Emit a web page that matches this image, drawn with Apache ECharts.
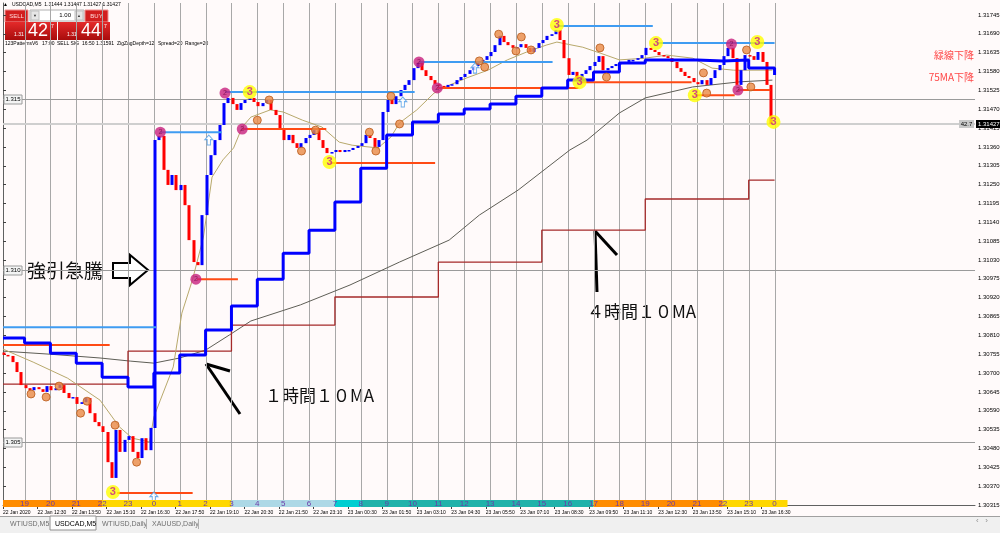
<!DOCTYPE html>
<html><head><meta charset="utf-8"><title>USDCAD M5</title>
<script src="https://cdn.jsdelivr.net/npm/echarts@6.0.0/dist/echarts.min.js"></script>
<style>html,body{margin:0;padding:0;background:#fffafa;overflow:hidden}#chart{width:1000px;height:533px}</style>
</head><body><div id="chart"></div>
<script>
// ---------------- DATA ----------------
// x unit = index of M5 bar (0 = 22 Jan 11:10)
const timeLabels = ["22 Jan 2020","22 Jan 12:30","22 Jan 13:50","22 Jan 15:10","22 Jan 16:30","22 Jan 17:50","22 Jan 19:10","22 Jan 20:30","22 Jan 21:50","22 Jan 23:10","23 Jan 00:30","23 Jan 01:50","23 Jan 03:10","23 Jan 04:30","23 Jan 05:50","23 Jan 07:10","23 Jan 08:30","23 Jan 09:50","23 Jan 11:10","23 Jan 12:30","23 Jan 13:50","23 Jan 15:10","23 Jan 16:30"];
const yTicks = [1.30315,1.30370,1.30425,1.30480,1.30535,1.30590,1.30645,1.30700,1.30755,1.30810,1.30865,1.30920,1.30975,1.31030,1.31085,1.31140,1.31195,1.31250,1.31305,1.31360,1.31415,1.31470,1.31525,1.31580,1.31635,1.31690,1.31745];
const hourNumbers = [19,20,21,22,23,0,1,2,3,4,5,6,7,8,9,10,11,12,13,14,15,16,17,18,19,20,21,22,23,0];

// 10-minute candles (open = previous close)
const firstOpen = 1.30760;
const candleCloses = [
1.30753,1.30750,1.30732,1.30703,1.30665,1.30656,1.30650,1.30659,1.30653,1.30645,
1.30662,1.30650,1.30656,1.30665,1.30642,1.30627,1.30630,1.30610,1.30615,1.30627,
1.30583,1.30557,1.30545,1.30528,1.30440,1.30394,1.30534,1.30470,1.30505,1.30516,
1.30470,1.30452,1.30510,1.30475,1.30540,1.31380,1.31392,1.31293,1.31249,1.31278,
1.31234,1.31249,1.31190,1.31088,1.31024,1.31015,1.31161,1.31278,1.31336,1.31380,
1.31424,1.31488,1.31503,1.31485,1.31468,1.31488,1.31497,1.31503,1.31491,1.31479,
1.31488,1.31497,1.31468,1.31453,1.31415,1.31380,1.31395,1.31371,1.31357,1.31371,
1.31386,1.31395,1.31409,1.31380,1.31357,1.31342,1.31345,1.31351,1.31345,1.31351,
1.31351,1.31357,1.31363,1.31371,1.31395,1.31386,1.31360,1.31380,1.31462,1.31497,
1.31485,1.31508,1.31526,1.31541,1.31555,1.31590,1.31605,1.31584,1.31567,1.31555,
1.31543,1.31538,1.31535,1.31541,1.31543,1.31555,1.31564,1.31573,1.31584,1.31596,
1.31608,1.31614,1.31625,1.31637,1.31657,1.31684,1.31666,1.31657,1.31649,1.31651,
1.31660,1.31649,1.31637,1.31649,1.31663,1.31672,1.31684,1.31689,1.31701,1.31672,
1.31619,1.31570,1.31579,1.31555,1.31573,1.31584,1.31596,1.31608,1.31625,1.31584,
1.31590,1.31596,1.31602,1.31605,1.31608,1.31614,1.31614,1.31619,1.31628,1.31649,
1.31643,1.31637,1.31628,1.31625,1.31619,1.31608,1.31590,1.31579,1.31567,1.31561,
1.31549,1.31543,1.31555,1.31541,1.31561,1.31584,1.31599,1.31625,1.31649,1.31619,
1.31541,1.31584,1.31628,1.31625,1.31614,1.31637,1.31608,1.31541,1.31427];

// 1-hour 10MA (step values, start of each hour block)
const ma1h = [[0,1.30802],[10,1.30788],[22,1.30758],[34,1.30729],[46,1.30688],[58,1.30659],[70,1.30700],[82,1.30753],[94,1.30826],[106,1.30896],[118,1.30974],[130,1.31050],[142,1.31117],[154,1.31199],[166,1.31298],[178,1.31395],[190,1.31433],[202,1.31456],[214,1.31471],[226,1.31485],[238,1.31508],[250,1.31532],[262,1.31555],[274,1.31579],[286,1.31605],[298,1.31614],[310,1.31614],[322,1.31611],[334,1.31614],[346,1.31590],[358,1.31570]];
// 4-hour 10MA
const ma4h = [[0,1.30668],[58,1.30764],[106,1.30840],[154,1.30922],[202,1.31024],[250,1.31117],[298,1.31208],[346,1.31263],[358,1.31263]];
// 75MA (dark grey)
const ma75 = [[0,1.30764],[22,1.30755],[45,1.30744],[59,1.30735],[70,1.30729],[82,1.30744],[94,1.30767],[105,1.30811],[115,1.30852],[138,1.30899],[161,1.30957],[184,1.31024],[207,1.31088],[221,1.31161],[239,1.31234],[263,1.31351],[271,1.31380],[286,1.31459],[298,1.31503],[320,1.31535],[342,1.31550],[357,1.31555]];
// fast MA (khaki)
const maFast = [[0,1.30770],[14,1.30732],[30,1.30685],[45,1.30621],[54,1.30543],[60,1.30510],[68,1.30499],[70,1.30572],[73,1.30621],[79,1.30718],[83,1.30875],[88,1.30974],[93,1.31097],[97,1.31272],[102,1.31322],[107,1.31357],[111,1.31418],[115,1.31447],[124,1.31468],[130,1.31462],[139,1.31438],[148,1.31418],[156,1.31374],[162,1.31365],[174,1.31357],[180,1.31389],[184,1.31430],[192,1.31468],[200,1.31517],[207,1.31540],[215,1.31561],[225,1.31584],[234,1.31614],[243,1.31637],[252,1.31657],[257,1.31666],[269,1.31651],[277,1.31634],[286,1.31614],[298,1.31619],[308,1.31628],[320,1.31619],[329,1.31590],[339,1.31584],[357,1.31584]];

// pattern markers [barIndex, price]
const zz3Points = [[51,1.30353],[114.5,1.31520],[151.5,1.31316],[257,1.31716],[267.5,1.31549],[303,1.31663],[321,1.31511],[350,1.31666],[357.5,1.31433]];
const zz2Points = [[73,1.31403],[89.5,1.30974],[103,1.31517],[111,1.31412],[193,1.31608],[201.5,1.31532],[338,1.31660],[341,1.31526]];
const zz0Points = [[13,1.30639],[20,1.30630],[26,1.30662],[36,1.30583],[39,1.30618],[52,1.30548],[62,1.30440],[118,1.31438],[123.5,1.31497],[138.5,1.31348],[145,1.31409],[170,1.31403],[173,1.31348],[180,1.31508],[184,1.31427],[221,1.31611],[223.5,1.31593],[230,1.31689],[238,1.31640],[240.5,1.31681],[245,1.31643],[277,1.31649],[280,1.31564],[325,1.31576],[326.5,1.31517],[345,1.31643],[347,1.31535]];
const buySignals = [[70,1.30338],[95.5,1.31380],[185.5,1.31491],[219,1.31590]];

// horizontal level segments [startBar, endBar, price]
const resistanceLevels = [[0,71,1.30834],[73,101.5,1.31403],[103,191,1.31520],[193,255,1.31608],[257,301.5,1.31713],[303,358,1.31663]];
const supportLevels = [[0,49.5,1.30782],[53,88,1.30350],[90,109,1.30974],[111,150,1.31412],[151.5,200.5,1.31313],[201.5,267,1.31532],[267.5,319.5,1.31549],[321,339.5,1.31511],[341,356,1.31526]];
const roundLevels = [1.315, 1.310, 1.305];
const lastPrice = 1.31427;
const sessionBands = [[0,46,'london'],[46,106,'ny'],[106,154,'close'],[154,166,'open'],[166,274,'tokyo'],[274,334,'london'],[334,364,'ny']];

// ---------------- CHART ----------------
const X_MAX = 451, Y_MIN = 1.30315, Y_MAX = 1.3178;
const FONT = '"Liberation Sans", Arial, sans-serif';
const JP = '"Noto Sans CJK JP", sans-serif';
const sessionColor = {london:'#ff8c00', ny:'#ffd700', close:'#add8e6', open:'#00ced1', tokyo:'#20b2aa'};
const timeTicks = timeLabels.map((_, i) => i * 16);
const hourBars = hourNumbers.map((_, k) => 10 + 12 * k);
const candleData = candleCloses.map((c, i) => [2 * i + 0.5, i ? candleCloses[i - 1] : firstOpen, c]);

function segRender(color, width) {
  return (p, api) => {
    const a = api.coord([api.value(0), api.value(2)]);
    const b = api.coord([api.value(1), api.value(2)]);
    return {type: 'line', shape: {x1: a[0], y1: a[1], x2: b[0], y2: b[1]}, style: {stroke: color, lineWidth: width}};
  };
}

const chart = echarts.init(document.getElementById('chart'));
const option = {
  animation: false,
  backgroundColor: '#fffafa',
  grid: [
    {left: 3, right: 25, top: 3, bottom: 28, containLabel: false, outerBoundsMode: 'none'},
    {left: 3, right: 25, top: 500, height: 7, containLabel: false, outerBoundsMode: 'none'}
  ],
  xAxis: [
    {type: 'value', gridIndex: 0, min: 0, max: X_MAX,
     axisLine: {show: true, lineStyle: {color: '#606060', width: 1}},
     axisTick: {show: true, customValues: timeTicks, length: 4, lineStyle: {color: '#404040'}},
     axisLabel: {show: true, customValues: timeTicks, formatter: v => timeLabels[Math.round(v / 16)] || '', align: 'left', margin: 5, fontSize: 5, color: '#000', fontFamily: FONT},
     splitLine: {show: false}},
    {type: 'value', gridIndex: 1, min: 0, max: X_MAX, show: false}
  ],
  yAxis: [
    {type: 'value', gridIndex: 0, position: 'right', min: Y_MIN, max: Y_MAX, scale: true,
     axisLine: {show: true, lineStyle: {color: '#606060', width: 1}},
     axisTick: {show: true, customValues: yTicks, length: 3, lineStyle: {color: '#404040'}},
     axisLabel: {show: true, customValues: yTicks, formatter: v => v.toFixed(5), margin: 3, fontSize: 6, color: '#000', fontFamily: FONT},
     splitLine: {show: false}},
    {type: 'value', gridIndex: 1, min: 0, max: 1, show: false}
  ],
  series: [
    // hour separators
    {type: 'custom', silent: true, z: 1, clip: false, data: hourBars.map(v => [v, Y_MIN]), encode: {x: 0, y: 1},
     renderItem: (p, api) => {
       const x = Math.round(api.coord([api.value(0), Y_MIN])[0]) + 0.5;
       const cs = p.coordSys;
       return {type: 'line', shape: {x1: x, y1: cs.y, x2: x, y2: cs.y + cs.height + 2}, style: {stroke: '#a8a8a8', lineWidth: 1}};
     }},
    // round number lines
    {type: 'custom', silent: true, z: 1, clip: false, data: roundLevels.map(v => [0, v]), encode: {x: 0, y: 1},
     renderItem: (p, api) => {
       const y = Math.round(api.coord([0, api.value(1)])[1]) + 0.5;
       const cs = p.coordSys;
       return {type: 'group', children: [
         {type: 'line', shape: {x1: cs.x, y1: y, x2: cs.x + cs.width, y2: y}, style: {stroke: '#9a9a9a', lineWidth: 1}},
         {type: 'rect', shape: {x: cs.x + 1, y: y - 4.5, width: 18, height: 9}, style: {fill: '#f4f4f4', stroke: '#9a9a9a', lineWidth: 1}},
         {type: 'text', style: {text: api.value(1).toFixed(3), x: cs.x + 10, y: y, align: 'center', verticalAlign: 'middle', fontSize: 6, fontFamily: FONT, fill: '#000'}}
       ]};
     }},
    // current price line
    {type: 'custom', silent: true, z: 2, clip: false, data: [[0, lastPrice]], encode: {x: 0, y: 1},
     renderItem: (p, api) => {
       const y = Math.round(api.coord([0, api.value(1)])[1]);
       const cs = p.coordSys;
       return {type: 'group', children: [
         {type: 'line', shape: {x1: cs.x, y1: y, x2: cs.x + cs.width, y2: y}, style: {stroke: '#cfcfcf', lineWidth: 2}},
         {type: 'rect', shape: {x: cs.x + cs.width - 16, y: y - 4, width: 15, height: 8}, style: {fill: '#c8c8c8'}},
         {type: 'text', style: {text: '42.7', x: cs.x + cs.width - 8.5, y: y, align: 'center', verticalAlign: 'middle', fontSize: 6, fontFamily: FONT, fill: '#000'}},
         {type: 'rect', shape: {x: cs.x + cs.width + 1, y: y - 4, width: 24, height: 8}, style: {fill: '#000'}},
         {type: 'text', style: {text: api.value(1).toFixed(5), x: cs.x + cs.width + 3, y: y, align: 'left', verticalAlign: 'middle', fontSize: 6, fontFamily: FONT, fill: '#fff'}}
       ]};
     }},
    // MAs
    {type: 'line', name: '75MA', data: ma75, symbol: 'none', z: 3, lineStyle: {color: '#5e5e56', width: 1}, silent: true},
    {type: 'line', name: '4H10MA', data: ma4h, step: 'end', symbol: 'none', z: 3, lineStyle: {color: '#a52a2a', width: 1.3}, silent: true},
    {type: 'line', name: 'fastMA', data: maFast, symbol: 'none', z: 3, lineStyle: {color: '#b8a96c', width: 1}, silent: true},
    // candles
    {type: 'custom', name: 'USDCAD', z: 4, data: candleData, encode: {x: 0, y: [1, 2]},
     renderItem: (p, api) => {
       const x = api.value(0), o = api.value(1), c = api.value(2);
       const a = api.coord([x, o]), b = api.coord([x, c]);
       const up = c >= o;
       const top = Math.min(a[1], b[1]);
       const h = Math.max(1.5, Math.abs(a[1] - b[1]));
       return {type: 'rect', shape: {x: Math.round(a[0]) - 1.5, y: top, width: 3, height: h}, style: {fill: up ? '#0000ff' : '#ff0000'}};
     }},
    // level segments
    {type: 'custom', z: 5, silent: true, data: resistanceLevels, encode: {x: [0, 1], y: 2}, renderItem: segRender('#3f9cf2', 2)},
    {type: 'custom', z: 5, silent: true, data: supportLevels, encode: {x: [0, 1], y: 2}, renderItem: segRender('#ff4a14', 2)},
    // 1H MA
    {type: 'line', name: '1H10MA', data: ma1h, step: 'end', symbol: 'none', z: 6, lineStyle: {color: '#0000ff', width: 3}, silent: true},
    // markers
    {type: 'scatter', z: 7, data: buySignals, symbol: 'path://M5,0 L10,5 L7,5 L7,11 L3,11 L3,5 L0,5 Z', symbolSize: [8, 10], silent: true,
     itemStyle: {color: '#ffffff', borderColor: '#4a9ae6', borderWidth: 1}},
    {type: 'scatter', z: 7, data: zz0Points, symbol: 'circle', symbolSize: 8, silent: true,
     itemStyle: {color: '#ea8a45', borderColor: '#b85a1a', borderWidth: 1}},
    {type: 'scatter', z: 7, data: zz2Points, symbol: 'circle', symbolSize: 11, silent: true,
     itemStyle: {color: '#c8207e'},
     label: {show: true, formatter: '2', position: 'inside', fontSize: 7, color: '#7a0a4a', fontFamily: FONT}},
    {type: 'scatter', z: 8, data: zz3Points, symbol: 'circle', symbolSize: 14, silent: true,
     itemStyle: {color: '#ffff00'},
     label: {show: true, formatter: '3', position: 'inside', fontSize: 11, fontWeight: 'bold', color: '#c8208c', fontFamily: FONT}},
    // session bar
    {type: 'custom', xAxisIndex: 1, yAxisIndex: 1, z: 9, silent: true, clip: false, data: sessionBands, encode: {x: [0, 1]},
     renderItem: (p, api) => {
       const a = api.coord([api.value(0), 0]), b = api.coord([api.value(1), 1]);
       return {type: 'rect', shape: {x: a[0], y: b[1], width: b[0] - a[0], height: a[1] - b[1]}, style: {fill: sessionColor[sessionBands[p.dataIndex][2]]}};
     }},
    {type: 'custom', xAxisIndex: 1, yAxisIndex: 1, z: 10, silent: true, clip: false, data: hourBars.map((v, k) => [v, 0.5, hourNumbers[k]]), encode: {x: 0, y: 1},
     renderItem: (p, api) => {
       const pt = api.coord([api.value(0), api.value(1)]);
       return {type: 'text', style: {text: String(api.value(2)), x: pt[0], y: pt[1], align: 'center', verticalAlign: 'middle', fontSize: 8, fontFamily: FONT, fill: '#6a3aa8'}};
     }}
  ],
  graphic: [
    // header
    {type: 'text', silent: true, style: {text: '▲', x: 3, y: 5, fontSize: 5, fill: '#000', verticalAlign: 'middle'}},
    {type: 'text', silent: true, style: {text: 'USDCAD,M5  1.31444 1.31447 1.31427 1.31427', x: 12, y: 5, fontSize: 5, fontFamily: FONT, fill: '#000', verticalAlign: 'middle'}},
    // trade panel
    {type: 'rect', silent: true, shape: {x: 5, y: 10, width: 23, height: 12}, style: {fill: '#d21f1f', stroke: '#f09090'}},
    {type: 'text', silent: true, style: {text: 'SELL', x: 16.5, y: 16, align: 'center', verticalAlign: 'middle', fontSize: 6, fontFamily: FONT, fill: '#ffd8d8'}},
    {type: 'rect', silent: true, shape: {x: 30, y: 10, width: 54, height: 11}, style: {fill: '#fff', stroke: '#b0b0b0'}},
    {type: 'rect', silent: true, shape: {x: 31, y: 11, width: 8, height: 9}, style: {fill: '#e6e6e6', stroke: '#c0c0c0'}},
    {type: 'rect', silent: true, shape: {x: 75, y: 11, width: 8, height: 9}, style: {fill: '#e6e6e6', stroke: '#c0c0c0'}},
    {type: 'text', silent: true, style: {text: '▼', x: 35, y: 15.5, align: 'center', verticalAlign: 'middle', fontSize: 4, fill: '#333'}},
    {type: 'text', silent: true, style: {text: '▲', x: 79, y: 15.5, align: 'center', verticalAlign: 'middle', fontSize: 4, fill: '#333'}},
    {type: 'text', silent: true, style: {text: '1.00', x: 71, y: 15.5, align: 'right', verticalAlign: 'middle', fontSize: 6, fontFamily: FONT, fill: '#000'}},
    {type: 'rect', silent: true, shape: {x: 85, y: 10, width: 23, height: 12}, style: {fill: '#d21f1f', stroke: '#f09090'}},
    {type: 'text', silent: true, style: {text: 'BUY', x: 96.5, y: 16, align: 'center', verticalAlign: 'middle', fontSize: 6, fontFamily: FONT, fill: '#ffd8d8'}},
    {type: 'rect', silent: true, shape: {x: 5, y: 22, width: 52, height: 18}, style: {fill: new echarts.graphic.LinearGradient(0, 0, 0, 1, [{offset: 0, color: '#e42a2a'}, {offset: 1, color: '#a80c0c'}])}},
    {type: 'rect', silent: true, shape: {x: 58, y: 22, width: 52, height: 18}, style: {fill: new echarts.graphic.LinearGradient(0, 0, 0, 1, [{offset: 0, color: '#e42a2a'}, {offset: 1, color: '#a80c0c'}])}},
    {type: 'text', silent: true, style: {text: '1.31', x: 14, y: 35, verticalAlign: 'middle', fontSize: 5, fontFamily: FONT, fill: '#fff'}},
    {type: 'text', silent: true, style: {text: '42', x: 38, y: 31.5, align: 'center', verticalAlign: 'middle', fontSize: 18, fontFamily: FONT, fill: '#fff'}},
    {type: 'text', silent: true, style: {text: '7', x: 51, y: 27, verticalAlign: 'middle', fontSize: 5, fontFamily: FONT, fill: '#fff'}},
    {type: 'text', silent: true, style: {text: '1.31', x: 67, y: 35, verticalAlign: 'middle', fontSize: 5, fontFamily: FONT, fill: '#fff'}},
    {type: 'text', silent: true, style: {text: '44', x: 91, y: 31.5, align: 'center', verticalAlign: 'middle', fontSize: 18, fontFamily: FONT, fill: '#fff'}},
    {type: 'text', silent: true, style: {text: '7', x: 104, y: 27, verticalAlign: 'middle', fontSize: 5, fontFamily: FONT, fill: '#fff'}},
    // indicator info line
    {type: 'text', silent: true, style: {text: '123PatternsV6', x: 5, y: 44, verticalAlign: 'middle', fontSize: 5, fontFamily: FONT, fill: '#000'}},
    {type: 'text', silent: true, style: {text: '17:00', x: 42, y: 44, verticalAlign: 'middle', fontSize: 5, fontFamily: FONT, fill: '#000'}},
    {type: 'text', silent: true, style: {text: 'SELL SIG', x: 57, y: 44, verticalAlign: 'middle', fontSize: 5, fontFamily: FONT, fill: '#000'}},
    {type: 'text', silent: true, style: {text: '16:50', x: 82, y: 44, verticalAlign: 'middle', fontSize: 5, fontFamily: FONT, fill: '#000'}},
    {type: 'text', silent: true, style: {text: '1.31591', x: 96, y: 44, verticalAlign: 'middle', fontSize: 5, fontFamily: FONT, fill: '#000'}},
    {type: 'text', silent: true, style: {text: 'ZigZagDepth=12', x: 117, y: 44, verticalAlign: 'middle', fontSize: 5, fontFamily: FONT, fill: '#000'}},
    {type: 'text', silent: true, style: {text: 'Spread=20', x: 158, y: 44, verticalAlign: 'middle', fontSize: 5, fontFamily: FONT, fill: '#000'}},
    {type: 'text', silent: true, style: {text: 'Range=20', x: 185, y: 44, verticalAlign: 'middle', fontSize: 5, fontFamily: FONT, fill: '#000'}},
    // right notes
    {type: 'text', silent: true, style: {text: '緑線下降', x: 974, y: 55, align: 'right', verticalAlign: 'middle', fontSize: 10, fontFamily: JP, fill: '#ff4848'}},
    {type: 'text', silent: true, style: {text: '75MA下降', x: 974, y: 77, align: 'right', verticalAlign: 'middle', fontSize: 10, fontFamily: JP, fill: '#ff4848'}},
    // hand annotations
    {type: 'text', silent: true, style: {text: '強引急騰', x: 27, y: 271, verticalAlign: 'middle', fontSize: 19, fontFamily: JP, fill: '#111'}},
    {type: 'polygon', silent: true, shape: {points: [[113, 263], [130, 263], [130, 255], [148, 270], [130, 285], [130, 278], [113, 278]]}, style: {fill: '#fff', stroke: '#000', lineWidth: 2}},
    {type: 'text', silent: true, style: {text: '１時間１０MA', x: 265, y: 396, verticalAlign: 'middle', fontSize: 17, fontFamily: JP, fill: '#111'}},
    {type: 'polyline', silent: true, shape: {points: [[240, 414], [206, 364]]}, style: {stroke: '#000', lineWidth: 3}},
    {type: 'polyline', silent: true, shape: {points: [[206, 364], [230, 371]]}, style: {stroke: '#000', lineWidth: 3}},
    {type: 'text', silent: true, style: {text: '４時間１０MA', x: 587, y: 312, verticalAlign: 'middle', fontSize: 17, fontFamily: JP, fill: '#111'}},
    {type: 'polyline', silent: true, shape: {points: [[597, 292], [595, 231]]}, style: {stroke: '#000', lineWidth: 3}},
    {type: 'polyline', silent: true, shape: {points: [[595, 231], [617, 255]]}, style: {stroke: '#000', lineWidth: 3}},
    // bottom tab bar
    {type: 'rect', silent: true, shape: {x: 0, y: 516, width: 1000, height: 17}, style: {fill: '#f0f0f0'}},
    {type: 'line', silent: true, shape: {x1: 0, y1: 516.5, x2: 1000, y2: 516.5}, style: {stroke: '#a0a0a0'}},
    {type: 'rect', silent: true, shape: {x: 50, y: 516, width: 46, height: 14}, style: {fill: '#fff', stroke: '#909090'}},
    {type: 'text', silent: true, style: {text: 'WTIUSD,M5', x: 10, y: 524, verticalAlign: 'middle', fontSize: 7, fontFamily: FONT, fill: '#707070'}},
    {type: 'text', silent: true, style: {text: 'USDCAD,M5', x: 55, y: 524, verticalAlign: 'middle', fontSize: 7, fontFamily: FONT, fill: '#000'}},
    {type: 'text', silent: true, style: {text: 'WTIUSD,Daily', x: 102, y: 524, verticalAlign: 'middle', fontSize: 7, fontFamily: FONT, fill: '#707070'}},
    {type: 'text', silent: true, style: {text: 'XAUUSD,Daily', x: 152, y: 524, verticalAlign: 'middle', fontSize: 7, fontFamily: FONT, fill: '#707070'}},
    {type: 'line', silent: true, shape: {x1: 146.5, y1: 519, x2: 146.5, y2: 529}, style: {stroke: '#b0b0b0'}},
    {type: 'line', silent: true, shape: {x1: 198.5, y1: 519, x2: 198.5, y2: 529}, style: {stroke: '#b0b0b0'}},
    {type: 'text', silent: true, style: {text: '‹   ›', x: 976, y: 521, verticalAlign: 'middle', fontSize: 8, fontFamily: FONT, fill: '#909090'}}
  ]
};
chart.setOption(option);
</script></body></html>
